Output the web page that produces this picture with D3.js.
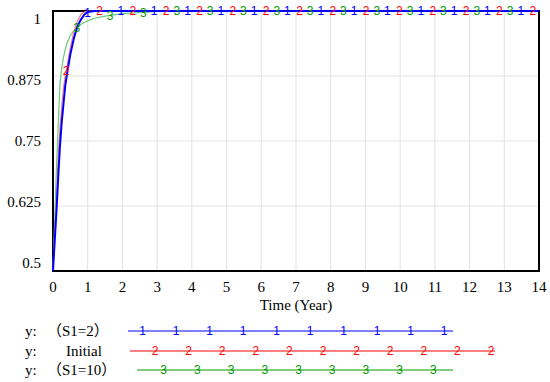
<!DOCTYPE html>
<html><head><meta charset="utf-8">
<script src="https://cdn.jsdelivr.net/npm/d3@7"></script>
<style>body{margin:0;background:#fff}svg{display:block}</style>
</head><body>
<svg id="c" width="550" height="382"></svg>
<script>
// ---- data ----
const time     = [0,0.03,0.06,0.1,0.15,0.2,0.25,0.3,0.35,0.4,0.5,0.6,0.7,0.8,0.9,1.0,1.2,1.5,2,2.5,3,3.5,4,14];
const yS1_2    = [0.5,0.535,0.57,0.615,0.68,0.74,0.785,0.82,0.855,0.877,0.917,0.947,0.97,0.983,0.993,0.998,1,1,1,1,1,1,1,1];
const yInitial = [0.5,0.545,0.59,0.64,0.72,0.775,0.815,0.85,0.875,0.892,0.93,0.96,0.98,0.993,0.998,1,1,1,1,1,1,1,1,1];
const yS1_10   = [0.5,0.56,0.62,0.7,0.78,0.86,0.89,0.91,0.925,0.938,0.953,0.962,0.968,0.974,0.978,0.981,0.986,0.99,0.995,0.997,0.999,1,1,1];
const seriesNames = ["（S1=2）","Initial","（S1=10）"];
const seriesIds = ["1","2","3"];
const xTicks = [0,1,2,3,4,5,6,7,8,9,10,11,12,13,14];
const yTicks = [0.5,0.625,0.75,0.875,1];
const yTickLabels = ["0.5","0.625","0.75","0.875","1"];
const markerStart = [0.994,0.38,0.686];
const markerStep = 0.96;
const markerCount = [14,15,14];
const xLabel = "Time (Year)";

// ---- layout ----
const svg = d3.select("#c");
const L=53,R=539,T=11,B=271;
const x = d3.scaleLinear().domain([0,14]).range([L,R]);
const y = d3.scaleLinear().domain([0.5,1]).range([B,T]);
const yLab = d3.scaleLinear().domain([0.5,1]).range([263,19]);
const serif = "'Liberation Serif','Times New Roman',serif";
const sans = "'Liberation Sans',Arial,sans-serif";

// gridlines
svg.append("g").selectAll("line").data(xTicks.slice(1,-1)).join("line")
  .attr("x1",d=>x(d)).attr("x2",d=>x(d)).attr("y1",T).attr("y2",B)
  .attr("stroke","#e3e3e3").attr("stroke-width",1);
svg.append("g").selectAll("line").data(yTicks.slice(1,-1)).join("line")
  .attr("x1",L).attr("x2",R).attr("y1",d=>y(d)).attr("y2",d=>y(d))
  .attr("stroke","#e3e3e3").attr("stroke-width",1);

// frame
svg.append("rect").attr("x",L).attr("y",T).attr("width",R-L).attr("height",B-T)
  .attr("fill","none").attr("stroke","#000").attr("stroke-width",2);

// tick labels
svg.append("g").selectAll("text").data(xTicks).join("text")
  .attr("x",d=>x(d)).attr("y",292).attr("text-anchor","middle")
  .attr("font-family",serif).attr("font-size",15).attr("fill","#000").text(d=>d);
svg.append("g").selectAll("text").data(yTicks).join("text")
  .attr("x",41).attr("y",d=>yLab(d)).attr("dy","0.35em").attr("text-anchor","end")
  .attr("font-family",serif).attr("font-size",15).attr("fill","#000").text((d,i)=>yTickLabels[i]);
svg.append("text").attr("x",(L+R)/2).attr("y",310).attr("text-anchor","middle")
  .attr("font-family",serif).attr("font-size",15).attr("fill","#000").text(xLabel);

// series
const data = [yS1_2,yInitial,yS1_10];
const lineColors = ["#0000ff","#f47a7a","#6cc87e"];
const markColors = ["#0000ff","#ff0000","#009a00"];
const widths = [2,1.2,1.2];
const line = d3.line().x(d=>x(d[0])).y(d=>y(d[1]));
const order = [2,1,0];
order.forEach(i=>{
  const pts = time.map((t,j)=>[t,data[i][j]]);
  svg.append("path").attr("d",line(pts)).attr("fill","none")
    .attr("stroke",lineColors[i]).attr("stroke-width",widths[i]);
});
function interp(arr,t){
  for(let j=1;j<time.length;j++){
    if(t<=time[j]){const f=(t-time[j-1])/(time[j]-time[j-1]);return arr[j-1]+f*(arr[j]-arr[j-1]);}
  }
  return arr[arr.length-1];
}
[0,1,2].forEach(i=>{
  const ts = d3.range(markerCount[i]).map(k=>markerStart[i]+k*markerStep);
  svg.append("g").selectAll("text").data(ts).join("text")
    .attr("x",t=>x(t)).attr("y",t=>y(interp(data[i],t))).attr("dy","0.36em")
    .attr("text-anchor","middle").attr("font-family",sans).attr("font-size",12)
    .attr("fill",markColors[i]).text(seriesIds[i]);
});

// legend
const legY=[331,351,370];
const legLine=[[128,453],[130,495],[137,453]];
const legMark=[[142.6,33.5,10],[155,33.6,11],[163.7,33.7,9]];
const legText=[47,66,47];
const legColors=["#0000ff","#ff0000","#009a00"];
[0,1,2].forEach(i=>{
  svg.append("text").attr("x",25).attr("y",legY[i]).attr("dy","0.35em")
    .attr("font-family",serif).attr("font-size",15).attr("fill","#000").text("y:");
  svg.append("text").attr("x",legText[i]).attr("y",legY[i]).attr("dy","0.35em")
    .attr("font-family",serif+",'Noto Sans CJK SC'").attr("font-size",15).attr("fill","#000").text(seriesNames[i]);
  svg.append("line").attr("x1",legLine[i][0]).attr("x2",legLine[i][1])
    .attr("y1",legY[i]).attr("y2",legY[i]).attr("stroke",legColors[i]).attr("stroke-width",1);
  svg.append("g").selectAll("text").data(d3.range(legMark[i][2])).join("text")
    .attr("x",k=>legMark[i][0]+k*legMark[i][1]).attr("y",legY[i]).attr("dy","0.36em")
    .attr("text-anchor","middle").attr("font-family",sans).attr("font-size",12)
    .attr("fill",markColors[i]).text(seriesIds[i]);
});
</script>
</body></html>
